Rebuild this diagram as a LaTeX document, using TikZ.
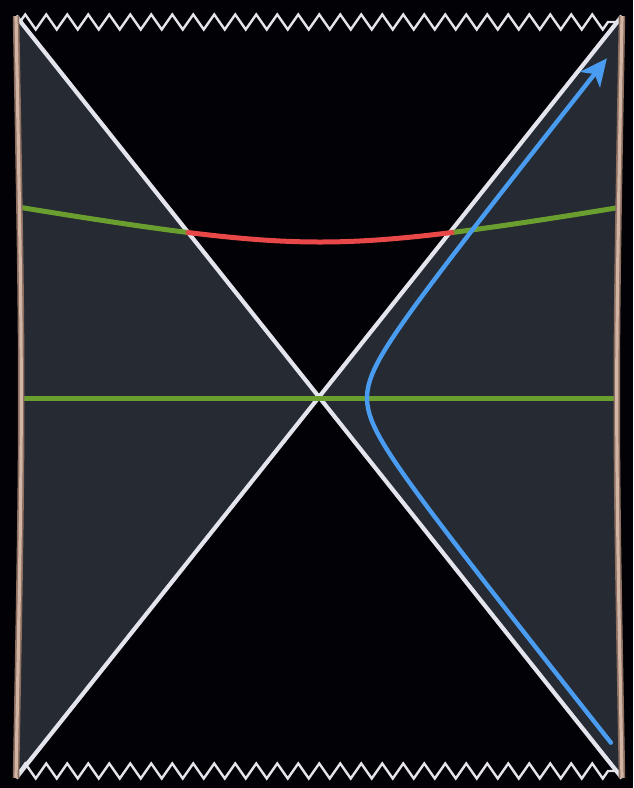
\documentclass[tikz,border=0pt]{standalone}
\usetikzlibrary{arrows.meta,decorations.pathmorphing}
\definecolor{bgc}{HTML}{020206}
\definecolor{wedgec}{HTML}{262A32}
\definecolor{whitec}{HTML}{E4E4EC}
\definecolor{greenc}{HTML}{6A9E2E}
\definecolor{redc}{HTML}{E84848}
\definecolor{bluec}{HTML}{4A9CF0}
\definecolor{tanc}{HTML}{D2B4A4}
\definecolor{tandark}{HTML}{8C6E60}
\tikzset{
  horizon/.style={whitec,line width=4.2pt},
  slice/.style={greenc,line width=5pt},
  interior/.style={redc,line width=5pt},
  worldline/.style={bluec,line width=4.4pt,line cap=round,-{Stealth[length=27pt,width=25pt,inset=7pt]}},
  bndouter/.style={tandark,line width=6.5pt},
  bndinner/.style={tanc,line width=3.2pt},
  singular/.style={whitec,line width=2.4pt,decorate,decoration={zigzag,segment length=21pt,amplitude=7.5pt}},
}
\begin{document}
\begin{tikzpicture}[x=1pt,y=-1pt]
\fill[bgc] (0,0) rectangle (633,788);
\useasboundingbox (0,0) rectangle (633,788);
\coordinate (TL) at (16,16);
\coordinate (TR) at (622,16);
\coordinate (BL) at (16,778);
\coordinate (BR) at (622,778);
\coordinate (C) at (319,397);
\coordinate (LM) at (23,397);
\coordinate (RM) at (615,397);
% wedges
\fill[wedgec] (TL) -- (C) -- (BL) .. controls (LM) .. (TL) -- cycle;
\fill[wedgec] (TR) -- (C) -- (BR) .. controls (RM) .. (TR) -- cycle;
% horizons
\draw[horizon] (TL) -- (BR);
\draw[horizon] (TR) -- (BL);
% horizontal slice
\draw[slice] (21,398) -- (618,398);
% curved slice
\draw[slice] plot[domain=-299:-132,samples=40,variable=\t] ({320+\t},{242-(10*sqrt((\t/10)^2+196)-140)*0.1815});
\draw[slice] plot[domain=132:298,samples=40,variable=\t] ({320+\t},{242-(10*sqrt((\t/10)^2+196)-140)*0.1815});
\draw[interior,line cap=round] plot[domain=-132:132,samples=60,variable=\t] ({320+\t},{242-(10*sqrt((\t/10)^2+196)-140)*0.1815});
% world line
\draw[worldline] plot[domain=-274:270,samples=120,variable=\t] ({335+10*sqrt((\t/10)^2+10.24)},{398-\t/0.795});
% boundaries
\draw[bndouter] (TL) .. controls (LM) .. (BL);
\draw[bndinner] (TL) .. controls (LM) .. (BL);
\draw[bndouter] (TR) .. controls (RM) .. (BR);
\draw[bndinner] (TR) .. controls (RM) .. (BR);
% singularities
\draw[singular] (20,22) -- (618,22);
\draw[singular] (20,771) -- (618,771);
\end{tikzpicture}
\end{document}
